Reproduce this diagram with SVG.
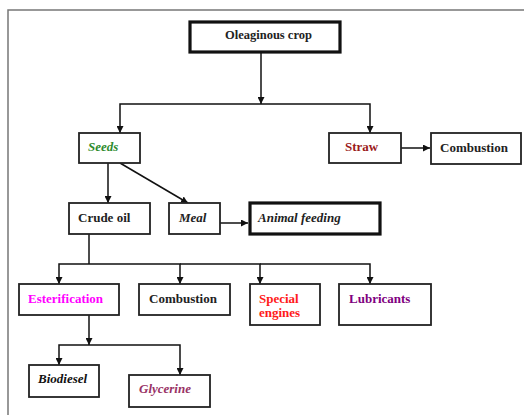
<svg xmlns="http://www.w3.org/2000/svg" width="524" height="415" viewBox="0 0 524 415">
<defs>
<marker id="ah" markerUnits="userSpaceOnUse" markerWidth="8" markerHeight="7" refX="7" refY="3.5" orient="auto">
<path d="M0,0 L7,3.5 L0,7 z" fill="#111"/>
</marker>
<style>
.box{fill:#fff;stroke:#222;stroke-width:1.8}
.thick{fill:#fff;stroke:#111;stroke-width:3.2}
.t{font-family:"Liberation Serif","Times New Roman",serif;font-size:13px;font-weight:bold;fill:#222}
.i{font-style:italic}
.c{fill:none;stroke:#111;stroke-width:1.5}
.ca{fill:none;stroke:#111;stroke-width:1.5;marker-end:url(#ah)}
</style>
</defs>
<rect width="524" height="415" fill="#fff"/>
<path d="M8,415 V10 H524" fill="none" stroke="#777" stroke-width="1.5"/>
<g id="connectors">
<path class="ca" d="M261,52 V104"/>
<path class="ca" d="M261,104 H120 V133"/>
<path class="ca" d="M261,104 H370 V133"/>
<path class="ca" d="M401,148 H430"/>
<path class="ca" d="M108,163 V203"/>
<path class="ca" d="M120,163 L188,203"/>
<path class="ca" d="M220,223 H248"/>
<path class="c" d="M89,234 V264"/>
<path class="ca" d="M89,264 H59 V284"/>
<path class="ca" d="M89,264 H180 V284"/>
<path class="ca" d="M180,264 H260 V284"/>
<path class="ca" d="M260,264 H370 V284"/>
<path class="ca" d="M89,315 V345"/>
<path class="ca" d="M89,345 H59 V365"/>
<path class="ca" d="M89,345 H180 V375"/>
</g>
<g id="oleaginous"><rect class="thick" x="190" y="22" width="150" height="30"/><text class="t" x="225" y="39" style="font-size:12.5px">Oleaginous crop</text></g>
<g id="seeds"><rect class="box" x="79" y="133" width="61" height="30"/><text class="t i" x="88" y="151" fill="#2E8B2E" style="fill:#2E8B2E">Seeds</text></g>
<g id="straw"><rect class="box" x="329" y="133" width="72" height="30"/><text class="t" x="345" y="151" style="fill:#9B1B1B">Straw</text></g>
<g id="combustion1"><rect class="box" x="431" y="133" width="90" height="31"/><text class="t" x="440" y="152">Combustion</text></g>
<g id="crudeoil"><rect class="box" x="69" y="203" width="81" height="31"/><text class="t" x="78" y="222">Crude oil</text></g>
<g id="meal"><rect class="box" x="169" y="203" width="51" height="31"/><text class="t i" x="179" y="222">Meal</text></g>
<g id="animalfeeding"><rect class="thick" x="250" y="203" width="130" height="31"/><text class="t i" x="258" y="222">Animal feeding</text></g>
<g id="esterification"><rect class="box" x="19" y="284" width="100" height="31"/><text class="t" x="28" y="303" style="fill:#FF00FF">Esterification</text></g>
<g id="combustion2"><rect class="box" x="139" y="284" width="91" height="31"/><text class="t" x="149" y="303">Combustion</text></g>
<g id="specialengines"><rect class="box" x="250" y="284" width="70" height="41"/><text class="t" x="259" y="303" style="fill:#FF1A1A">Special</text><text class="t" x="259" y="317" style="fill:#FF1A1A">engines</text></g>
<g id="lubricants"><rect class="box" x="339" y="284" width="92" height="41"/><text class="t" x="349" y="303" style="fill:#800080">Lubricants</text></g>
<g id="biodiesel"><rect class="box" x="29" y="365" width="70" height="32"/><text class="t i" x="38" y="383" style="fill:#111">Biodiesel</text></g>
<g id="glycerine"><rect class="box" x="129" y="375" width="81" height="32"/><text class="t i" x="139" y="393" style="fill:#993366">Glycerine</text></g>
</svg>
